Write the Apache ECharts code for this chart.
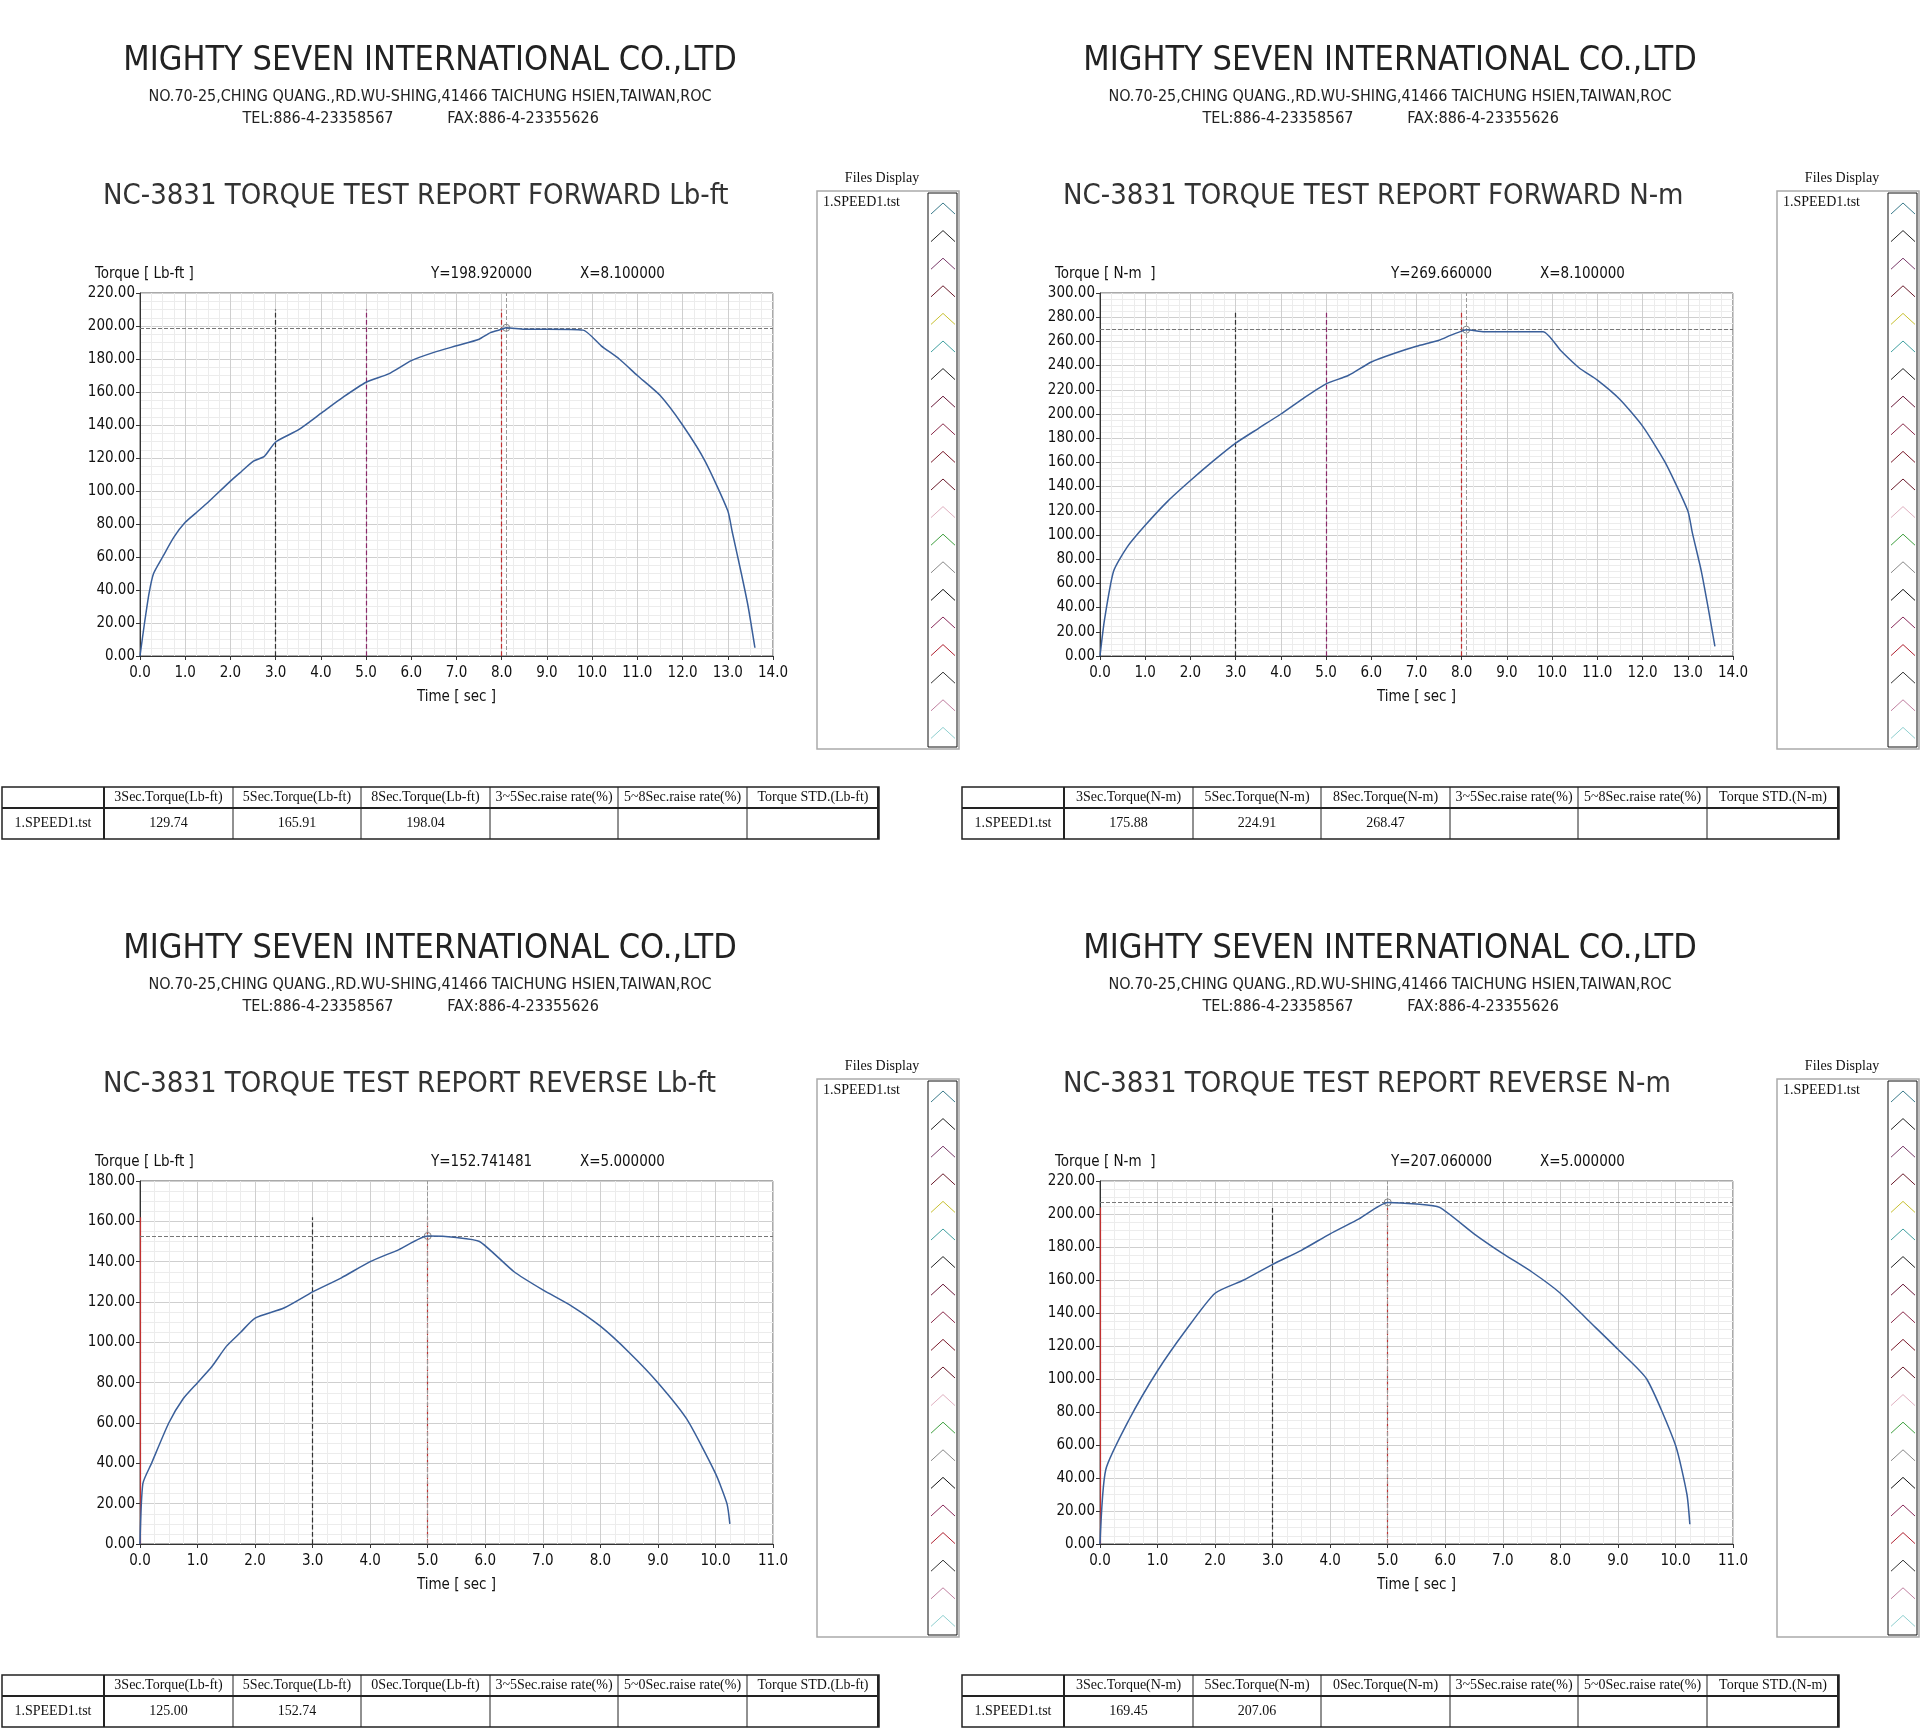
<!DOCTYPE html>
<html><head><meta charset="utf-8">
<script src="https://cdn.jsdelivr.net/npm/echarts@6/dist/echarts.min.js"></script>
<style>html,body{margin:0;padding:0;background:#fff}#c{width:1920px;height:1734px}</style>
</head><body><div id="c"></div>
<script>
// ---- data ----
const fwdLbX = [0,0.1,0.2,0.3,0.5,0.75,1.0,1.25,1.5,2.0,2.25,2.5,2.75,3.0,3.5,4.0,4.5,5.0,5.5,6.0,6.5,7.0,7.5,7.75,8.0,8.1,8.5,9.0,9.8,10.2,10.6,11.0,11.5,12.0,12.5,13.0,13.1,13.3,13.45,13.6];
const fwdLbY = [0,20,38,50,60,72,81,87,93,106,112,118,121,129.7,137,147,157,165.9,171,179,184,188,192,196,198,198.9,198,198,197.5,188,180,170,158,140,118,88,75,50,30,5];
const fwdNmX = [0,0.1,0.3,0.6,1.0,1.5,2.0,2.5,3.0,3.5,4.0,4.5,5.0,5.5,6.0,6.5,7.0,7.5,7.75,8.0,8.1,8.5,9.0,9.8,10.2,10.6,11.0,11.5,12.0,12.5,13.0,13.1,13.3,13.45,13.6];
const fwdNmY = [0,30,70,90,108,128,145,161,175.9,188,200,213,224.9,232,243,250,256,261,265,268.5,269.7,268,268,268,252,238,228,212,190,160,120,102,70,40,8];
const revLbX = [0,0.05,0.2,0.5,0.75,1.0,1.25,1.5,1.75,2.0,2.5,3.0,3.5,4.0,4.5,5.0,5.5,5.9,6.5,7.0,7.5,8.0,8.5,9.0,9.5,10.0,10.2,10.25];
const revLbY = [0,30,40,60,72,80,88,98,105,112,117,125,132,140,146,152.7,152,150,135,126,118,108,95,80,62,35,20,10];
const revNmX = [0,0.1,0.5,1.0,1.5,2.0,2.5,3.0,3.5,4.0,4.5,5.0,5.5,5.9,6.5,7.0,7.5,8.0,8.5,9.0,9.5,10.0,10.2,10.25];
const revNmY = [0,45,75,105,130,152,160,169.5,178,188,197,207,206,204,188,176,165,152,135,118,100,60,30,12];

const titles = ["NC-3831 TORQUE TEST REPORT FORWARD Lb-ft","NC-3831 TORQUE TEST REPORT FORWARD N-m","NC-3831 TORQUE TEST REPORT REVERSE Lb-ft","NC-3831 TORQUE TEST REPORT REVERSE N-m"];
const yNames = ["Torque [ Lb-ft ]","Torque [ N-m  ]","Torque [ Lb-ft ]","Torque [ N-m  ]"];
const cursorY = [198.92,269.66,152.741481,207.06];
const cursorX = [8.1,8.1,5.0,5.0];
const cursorText = [["Y=198.920000","X=8.100000"],["Y=269.660000","X=8.100000"],["Y=152.741481","X=5.000000"],["Y=207.060000","X=5.000000"]];
const yMax = [220,300,180,220];
const xMax = [14,14,11,11];
const tableHeadFwdLb = ["3Sec.Torque(Lb-ft)","5Sec.Torque(Lb-ft)","8Sec.Torque(Lb-ft)","3~5Sec.raise rate(%)","5~8Sec.raise rate(%)","Torque STD.(Lb-ft)"];
const tableHeadFwdNm = ["3Sec.Torque(N-m)","5Sec.Torque(N-m)","8Sec.Torque(N-m)","3~5Sec.raise rate(%)","5~8Sec.raise rate(%)","Torque STD.(N-m)"];
const tableHeadRevLb = ["3Sec.Torque(Lb-ft)","5Sec.Torque(Lb-ft)","0Sec.Torque(Lb-ft)","3~5Sec.raise rate(%)","5~0Sec.raise rate(%)","Torque STD.(Lb-ft)"];
const tableHeadRevNm = ["3Sec.Torque(N-m)","5Sec.Torque(N-m)","0Sec.Torque(N-m)","3~5Sec.raise rate(%)","5~0Sec.raise rate(%)","Torque STD.(N-m)"];
const tableVals = [["129.74","165.91","198.04","","",""],["175.88","224.91","268.47","","",""],["125.00","152.74","","","",""],["169.45","207.06","","","",""]];
const fileName = "1.SPEED1.tst";
const iconColors = ["#3a7a8a","#222","#7a3a6a","#6a1a2a","#c8c030","#40a0a0","#222","#6a1a3a","#8a2a4a","#7a1a2a","#6a1a2a","#e0b0c0","#40a040","#888","#111","#8a2a5a","#b02030","#333","#c080a0","#90d0d0"];
// ---- layout ----
const FONT = "'DejaVu Sans Condensed','Liberation Sans Narrow',sans-serif";
const SERIF = "'Liberation Serif',serif";
const offs = [[0,0],[960,0],[0,888],[960,888]];
const datasets = [[fwdLbX,fwdLbY],[fwdNmX,fwdNmY],[revLbX,revLbY],[revNmX,revNmY]];
const vlines = [
  [[3,0,210,'#333','dashed'],[5,0,210,'#8a2a6a','dashed'],[8,0,210,'#c03030','dashed']],
  [[3,0,285,'#333','dashed'],[5,0,285,'#8a2a6a','dashed'],[8,0,285,'#c03030','dashed']],
  [[0,0,162,'#c03030','solid'],[3,0,162,'#333','dashed'],[5,0,162,'#c03030','dashed']],
  [[0,0,204,'#c03030','solid'],[3,0,204,'#333','dashed'],[5,0,204,'#c03030','dashed']]
];
const chart = echarts.init(document.getElementById('c'));
const grid=[],xAxis=[],yAxis=[],series=[],graphic=[];
const colX=[2,104,233,361,490,618,747,879];
const heads=[tableHeadFwdLb,tableHeadFwdNm,tableHeadRevLb,tableHeadRevNm];
const T=(x,y,text,font,extra)=>graphic.push({type:'text',x,y,style:Object.assign({text,font,fill:'#111',verticalAlign:'middle'},extra||{})});
for(let i=0;i<4;i++){
  const [ox,oy]=offs[i];
  grid.push({left:140+ox,top:293+oy,width:633,height:363,show:true,borderColor:'#555',borderWidth:1,backgroundColor:'#fff'});
  xAxis.push({gridIndex:i,type:'value',min:0,max:xMax[i],interval:1,
    axisLine:{onZero:false,lineStyle:{color:'#333'}},axisTick:{show:true,length:4,lineStyle:{color:'#333'}},
    axisLabel:{formatter:v=>v.toFixed(1),color:'#111',fontFamily:FONT,fontSize:15,margin:10},
    splitLine:{show:true,lineStyle:{color:'#cfcfcf',width:1}},
    minorTick:{show:false,splitNumber:4},minorSplitLine:{show:true,lineStyle:{color:'#ececec'}},
    name:'Time [ sec ]',nameLocation:'middle',nameGap:34,nameTextStyle:{color:'#111',fontFamily:FONT,fontSize:15}});
  yAxis.push({gridIndex:i,type:'value',min:0,max:yMax[i],interval:20,
    axisLine:{show:true,lineStyle:{color:'#333'}},axisTick:{show:true,length:4,lineStyle:{color:'#333'}},
    axisLabel:{formatter:v=>v.toFixed(2),color:'#111',fontFamily:FONT,fontSize:15,margin:5},
    splitLine:{show:true,lineStyle:{color:'#cfcfcf'}},
    minorSplitLine:{show:true,lineStyle:{color:'#ececec'}},minorTick:{show:false,splitNumber:4}});
  const [xs,ys]=datasets[i];
  series.push({type:'line',xAxisIndex:i,yAxisIndex:i,data:xs.map((x,k)=>[x,ys[k]]),showSymbol:false,smooth:0.2,
    lineStyle:{color:'#3a5f9a',width:1.5},animation:false,z:5,
    markLine:{silent:true,symbol:'none',label:{show:false},animation:false,
      data:[
        ...vlines[i].map(v=>[{coord:[v[0],v[1]],lineStyle:{color:v[3],type:v[4],width:1.2}},{coord:[v[0],v[2]]}]),
        [{coord:[cursorX[i],0],lineStyle:{color:'#999',type:'dashed',width:1}},{coord:[cursorX[i],yMax[i]]}],
        [{coord:[0,cursorY[i]],lineStyle:{color:'#777',type:'dashed',width:1}},{coord:[xMax[i],cursorY[i]]}]
      ]},
    markPoint:{symbol:'circle',symbolSize:7,itemStyle:{color:'rgba(0,0,0,0)',borderColor:'#888',borderWidth:1},label:{show:false},
      data:[{coord:[cursorX[i],cursorY[i]]}]}
  });
  T(430+ox,61+oy,'MIGHTY SEVEN INTERNATIONAL CO.,LTD',`34px ${FONT}`,{fill:'#222',align:'center'});
  T(430+ox,97+oy,'NO.70-25,CHING QUANG.,RD.WU-SHING,41466 TAICHUNG HSIEN,TAIWAN,ROC',`16px ${FONT}`,{fill:'#222',align:'center'});
  T(318+ox,119+oy,'TEL:886-4-23358567',`16px ${FONT}`,{fill:'#222',align:'center'});
  T(523+ox,119+oy,'FAX:886-4-23355626',`16px ${FONT}`,{fill:'#222',align:'center'});
  T(103+ox,196+oy,titles[i],`29px ${FONT}`,{fill:'#333'});
  T(95+ox,274+oy,yNames[i],`15px ${FONT}`);
  T(431+ox,274+oy,cursorText[i][0],`15px ${FONT}`);
  T(580+ox,274+oy,cursorText[i][1],`15px ${FONT}`);
  // files panel
  T(882+ox,178+oy,'Files Display',`14px ${SERIF}`,{align:'center'});
  graphic.push({type:'rect',shape:{x:817+ox,y:191+oy,width:142,height:558},style:{fill:'#fff',stroke:'#aaa',lineWidth:1.5}});
  graphic.push({type:'rect',shape:{x:928+ox,y:193+oy,width:29,height:554},style:{fill:'none',stroke:'#111',lineWidth:1}});
  T(823+ox,202+oy,fileName,`14px ${SERIF}`);
  iconColors.forEach((c,k)=>{const yy=oy+208+k*27.6;
    graphic.push({type:'polyline',shape:{points:[[931+ox,yy+6],[943+ox,yy-5],[955+ox,yy+6]]},style:{stroke:c,fill:'none',lineWidth:1}});});
  // table
  const tt=787+oy, tm=808+oy, tb=839+oy;
  graphic.push({type:'rect',shape:{x:colX[0]+ox,y:tt,width:colX[7]-colX[0],height:tb-tt},style:{fill:'#fff',stroke:'#222',lineWidth:1.5}});
  graphic.push({type:'line',shape:{x1:colX[0]+ox,y1:tm,x2:colX[7]+ox,y2:tm},style:{stroke:'#222',lineWidth:2}});
  for(let c=1;c<7;c++) graphic.push({type:'line',shape:{x1:colX[c]+ox,y1:tt,x2:colX[c]+ox,y2:tb},style:{stroke:'#222',lineWidth:c===1?2:1}});
  graphic.push({type:'line',shape:{x1:colX[7]+ox-1,y1:tt,x2:colX[7]+ox-1,y2:tb},style:{stroke:'#222',lineWidth:2}});
  T((colX[0]+colX[1])/2+ox,(tm+tb)/2,fileName,`14px ${SERIF}`,{align:'center'});
  for(let c=0;c<6;c++){
    const cx=(colX[c+1]+colX[c+2])/2+ox;
    T(cx,(tt+tm)/2,heads[i][c],`14px ${SERIF}`,{align:'center'});
    if(tableVals[i][c]) T(cx,(tm+tb)/2,tableVals[i][c],`14px ${SERIF}`,{align:'center'});
  }
}
chart.setOption({animation:false,backgroundColor:'#fff',grid,xAxis,yAxis,series,graphic});
</script></body></html>
